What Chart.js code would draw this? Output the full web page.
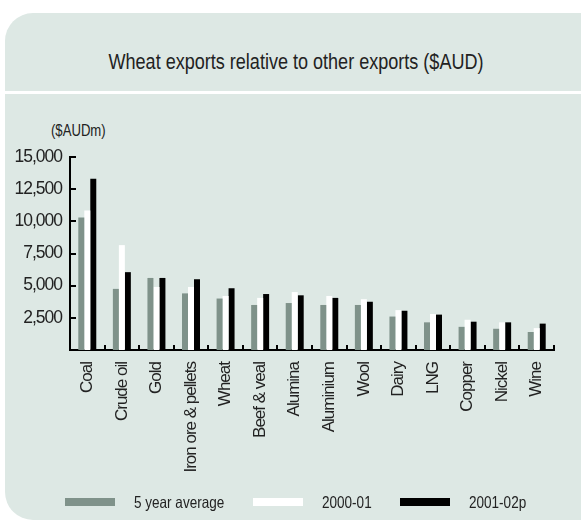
<!DOCTYPE html>
<html>
<head>
<meta charset="utf-8">
<title>Wheat exports relative to other exports</title>
<script src="https://cdn.jsdelivr.net/npm/chart.js@4"></script>
<style>
  body { margin: 0; width: 581px; height: 521px; background: #fff; position: relative; overflow: hidden;
         font-family: "Liberation Sans", Arial, sans-serif; color: #222; }
  #panel { position: absolute; left: 5px; top: 13px; width: 620px; height: 507px; background: #dde8e4; border-radius: 28px; }
  #sep { position: absolute; left: 5px; top: 91px; width: 576px; height: 3px; background: #fff; }
  #title { position: absolute; left: 0; width: 592px; top: 51px; text-align: center; font-size: 22px; line-height: 22px;
           transform: scaleX(0.82); transform-origin: 296px 0; white-space: nowrap; }
  #unit { position: absolute; left: 51px; top: 123px; font-size: 16px; line-height: 16px;
          transform: scaleX(0.82); transform-origin: 0 0; white-space: nowrap; }
  #wrap { position: absolute; left: 0; top: 0; width: 581px; height: 521px; }
  .box { position: absolute; top: 498px; width: 50px; height: 8px; }
  .lbl { position: absolute; top: 493px; font-size: 16.5px; line-height: 18px; white-space: nowrap;
         transform: scaleX(0.82); transform-origin: 0 0; }
</style>
</head>
<body>
<div id="panel"></div>
<div id="sep"></div>
<div id="title">Wheat exports relative to other exports ($AUD)</div>
<div id="unit">($AUDm)</div>
<div id="wrap"><canvas id="exportsChart"></canvas></div>
<div id="legend"></div>
<script>
const categories = ['Coal', 'Crude oil', 'Gold', 'Iron ore & pellets', 'Wheat', 'Beef & veal', 'Alumina',
                    'Aluminium', 'Wool', 'Dairy', 'LNG', 'Copper', 'Nickel', 'Wine'];
const fiveYearAvg = [10300, 4750, 5600, 4400, 4000, 3500, 3650, 3500, 3500, 2600, 2150, 1800, 1650, 1400];
const fy2000_01 = [10850, 8150, 4900, 4900, 4200, 4050, 4500, 4200, 3950, 3100, 2800, 2350, 2150, 1700];
const fy2001_02p = [13300, 6050, 5600, 5500, 4800, 4350, 4250, 4050, 3750, 3050, 2750, 2200, 2150, 2050];
const seriesNames = ['5 year average', '2000-01', '2001-02p'];
const yTicks = [2500, 5000, 7500, 10000, 12500, 15000];

const colours = ['#7f928a', '#ffffff', '#000000'];
const legendX = [65, 253, 400];   // left edge of each legend swatch

// no narrow font installed, so tighten the canvas text a bit
const tightText = {
    id: 'tightText',
    beforeUpdate(chart) { chart.ctx.letterSpacing = '-1px'; },
    beforeDraw(chart) { chart.ctx.letterSpacing = '-1px'; }
};

// short black marks pointing into the plot: between the groups and at each y tick
const innerTicks = {
    id: 'innerTicks',
    afterDraw(chart) {
        const { ctx, scales: { x, y } } = chart;
        ctx.save();
        ctx.strokeStyle = '#000';
        ctx.lineWidth = 2;
        ctx.beginPath();
        for (let i = 0; i < categories.length; i++) {
            const px = Math.round(x.getPixelForValue(i + 0.5));
            ctx.moveTo(px, y.bottom);
            ctx.lineTo(px, y.bottom - 5);
        }
        yTicks.forEach(v => {
            const py = Math.round(y.getPixelForValue(v));
            ctx.moveTo(x.left, py);
            ctx.lineTo(x.left + 6, py);
        });
        ctx.stroke();
        ctx.restore();
    }
};

const ctx = document.getElementById('exportsChart').getContext('2d');
const exportsChart = new Chart(ctx, {
    type: 'bar',
    data: {
        labels: categories,
        datasets: [
            { label: seriesNames[0], data: fiveYearAvg, backgroundColor: colours[0] },
            { label: seriesNames[1], data: fy2000_01, backgroundColor: colours[1] },
            { label: seriesNames[2], data: fy2001_02p, backgroundColor: colours[2] }
        ]
    },
    options: {
        responsive: true,
        maintainAspectRatio: false,
        animation: false,
        devicePixelRatio: 1,
        layout: { padding: { left: 0, right: 27, top: 157, bottom: 21 } },
        datasets: { bar: { barPercentage: 1, categoryPercentage: 0.52, borderWidth: 0 } },
        plugins: { legend: { display: false }, tooltip: { enabled: false }, title: { display: false } },
        scales: {
            x: {
                grid: { display: false, drawTicks: false },
                border: { display: true, color: '#000', width: 2 },
                ticks: {
                    autoSkip: false, minRotation: 90, maxRotation: 90, padding: 12,
                    color: '#222', font: { family: '"Liberation Sans", Arial, sans-serif', size: 17 }
                },
                afterFit: s => { s.height = 150; }
            },
            y: {
                min: 0,
                max: 15000,
                grid: { display: false, drawTicks: false },
                border: { display: true, color: '#000', width: 2 },
                afterBuildTicks: s => { s.ticks = yTicks.map(v => ({ value: v })); },
                ticks: {
                    padding: 8,
                    color: '#222',
                    font: { family: '"Liberation Sans", Arial, sans-serif', size: 17.5 },
                    callback: v => v.toLocaleString('en-US')
                },
                afterFit: s => { s.width = 70; }
            }
        }
    },
    plugins: [tightText, innerTicks]
});

// legend built from the chart's own datasets
const legend = document.getElementById('legend');
exportsChart.data.datasets.forEach((ds, i) => {
    const box = document.createElement('div');
    box.className = 'box';
    box.style.left = legendX[i] + 'px';
    box.style.background = ds.backgroundColor;
    const text = document.createElement('div');
    text.className = 'lbl';
    text.style.left = (legendX[i] + 69) + 'px';
    text.textContent = ds.label;
    legend.appendChild(box);
    legend.appendChild(text);
});
</script>
</body>
</html>
